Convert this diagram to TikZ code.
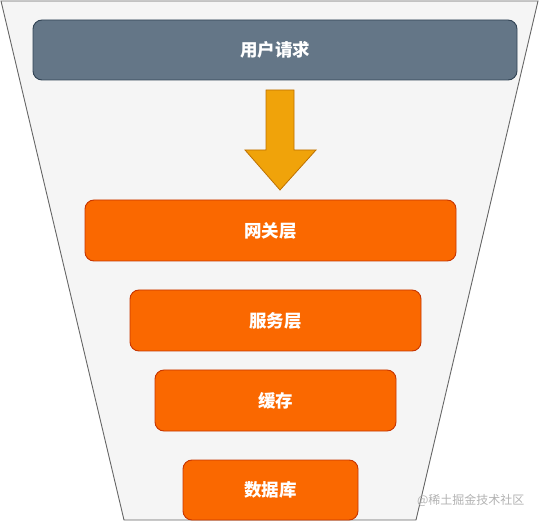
\documentclass[tikz,border=0pt]{standalone}
\usepackage{fontspec}
\newfontfamily\cjk{Noto Sans CJK SC}
\definecolor{funnelfill}{HTML}{F5F5F5}
\definecolor{funneldraw}{HTML}{666666}
\definecolor{reqfill}{HTML}{647687}
\definecolor{reqdraw}{HTML}{314354}
\definecolor{layerfill}{HTML}{FA6800}
\definecolor{layerdraw}{HTML}{C73500}
\definecolor{arrowfill}{HTML}{F0A30A}
\definecolor{arrowdraw}{HTML}{BD7000}
\tikzset{
	box/.style={draw, rounded corners=9pt, line width=0.9pt, text=white, font=\cjk\bfseries\fontsize{17.5}{20}\selectfont, inner sep=0pt},
	request/.style={box, fill=reqfill, draw=reqdraw},
	layer/.style={box, fill=layerfill, draw=layerdraw},
}
\begin{document}
\begin{tikzpicture}[x=1pt,y=-1pt]
	\useasboundingbox (0,0) rectangle (541,521);
	% funnel
	\coordinate (tl) at (1,1); \coordinate (tr) at (538,1);
	\coordinate (br) at (416,520); \coordinate (bl) at (124,520);
	\draw[fill=funnelfill, draw=funneldraw, line width=0.9pt] (tl) -- (tr) -- (br) -- (bl) -- cycle;
	
	\node[request, minimum width=484pt, minimum height=60pt] (req) at (275,50) {用户请求};
	\node[layer, minimum width=371pt, minimum height=61pt] (gateway) at (270.5,230.5) {网关层};
	\node[layer, minimum width=291pt, minimum height=61pt] (service) at (275.5,320.5) {服务层};
	\node[layer, minimum width=241pt, minimum height=61pt] (cache) at (275.5,400.5) {缓存};
	\node[layer, minimum width=175pt, minimum height=60pt] (db) at (270.5,490) {数据库};
	
	% arrow
	\coordinate (a) at (280,90);
	\draw[fill=arrowfill, draw=arrowdraw, line width=0.8pt, line join=miter]
		(a) ++(-14,0) -- ++(28,0) -- ++(0,60) -- ++(22,0) -- (280,190) -- (245,150) -- ++(21,0) -- cycle;
	
	\node[text=black!30, font=\cjk\fontsize{12}{14}\selectfont, anchor=east] (mark) at (528,500) {@稀土掘金技术社区};
\end{tikzpicture}
\end{document}
